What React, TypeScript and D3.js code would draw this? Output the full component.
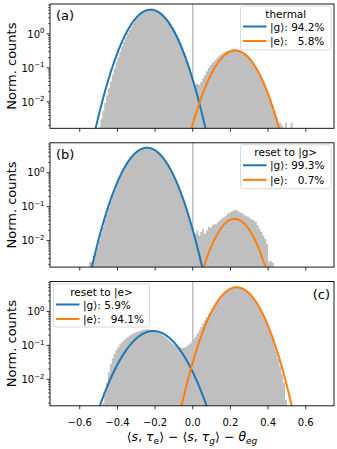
import React, { useEffect } from 'react';
import * as d3 from 'd3';

// histogram bins: first bin starts at binStart, each binWidth wide
const binStart = -0.55;
const binWidth = 0.01;

// log10 of normalised counts per bin, null = empty bin
const histThermal = [
  null, null, null, null, null, -2.75, -2.5, -2.26, -2.03, -1.81,
  -1.6, -1.4, -1.2, -1.02, -0.84, -0.68, -0.52, -0.37, -0.24, -0.11,
  0.01, 0.12, 0.22, 0.31, 0.4, 0.47, 0.54, 0.59, 0.64, 0.67,
  0.7, 0.72, 0.73, 0.73, 0.72, 0.7, 0.68, 0.65, 0.61, 0.56,
  0.5, 0.43, 0.36, 0.28, 0.19, 0.09, -0.02, -0.13, -0.26, -0.39,
  -0.53, -0.67, -0.83, -0.99, -1.15,
  -1.38, -1.48, -1.45, -1.5, -1.42, -1.3, -1.22, -1.1, -1.0, -0.92,
  -0.86, -0.8, -0.74, -0.68, -0.63, -0.59, -0.55, -0.52, -0.5, -0.48,
  -0.46, -0.45, -0.44, -0.46, -0.47, -0.5, -0.53, -0.56, -0.6, -0.66,
  -0.72, -0.79, -0.87, -0.95, -1.05, -1.15, -1.26, -1.38, -1.5, -1.64,
  -1.78, -1.94, -2.1, -2.28, -2.45, -2.62, -2.62, -2.7, null, -2.62,
  null, null, -2.62, null, null,
];
const histResetG = [
  -2.63, -2.62, -2.45, -2.35, -2.2, -2.0, -1.8, -1.6, -1.4, -1.2,
  -1.02, -0.84, -0.67, -0.51, -0.37, -0.23, -0.1, 0.03, 0.13, 0.23,
  0.31, 0.39, 0.46, 0.53, 0.58, 0.63, 0.67, 0.7, 0.72, 0.73,
  0.74, 0.74, 0.73, 0.71, 0.68, 0.65, 0.6, 0.55, 0.49, 0.42,
  0.35, 0.26, 0.17, 0.07, -0.04, -0.16, -0.28, -0.42, -0.56, -0.71,
  -0.87, -1.03, -1.21, -1.39, -1.58,
  -1.75, -1.8, -1.7, -1.85, -1.75, -1.65, -1.8, -1.7, -1.6, -1.62,
  -1.55, -1.5, -1.52, -1.45, -1.4, -1.35, -1.32, -1.28, -1.22, -1.18,
  -1.15, -1.12, -1.1, -1.1, -1.15, -1.18, -1.2, -1.25, -1.28, -1.3,
  -1.35, -1.38, -1.4, -1.45, -1.55, -1.65, -1.75, -1.85, -1.95, -2.1,
  -2.62, -2.6, -2.65, null, null, null, null, null, null, null,
  null, null, null, null, null,
];
const histResetE = [
  null, null, null, null, null, null, null, -2.7, -2.45, -2.1,
  -1.8, -1.55, -1.38, -1.25, -1.13, -1.05, -0.97, -0.9, -0.85, -0.8,
  -0.76, -0.72, -0.68, -0.65, -0.62, -0.6, -0.58, -0.56, -0.54, -0.53,
  -0.52, -0.53, -0.54, -0.56, -0.58, -0.6, -0.62, -0.65, -0.68, -0.72,
  -0.76, -0.8, -0.85, -0.9, -0.95, -1.0, -1.03, -1.06, -1.08, -1.08,
  -1.06, -1.04, -1.0, -0.95, -0.9,
  -0.82, -0.75, -0.66, -0.56, -0.46, -0.36, -0.26, -0.17, -0.08, 0.0,
  0.1, 0.18, 0.26, 0.33, 0.41, 0.48, 0.54, 0.59, 0.63, 0.66,
  0.68, 0.7, 0.71, 0.715, 0.71, 0.7, 0.67, 0.64, 0.6, 0.56,
  0.5, 0.44, 0.37, 0.29, 0.2, 0.11, 0.0, -0.11, -0.23, -0.36,
  -0.49, -0.64, -0.79, -0.97, -1.18, -1.4, -1.62, -1.85, -2.1, -2.6,
  null, null, null, null, null,
];
// narrow bin sitting exactly at 0 (goes off the top)
const zeroBinWidth = 0.008;
const zeroBinLog = [1.5, 1.5, 1.5];

// fitted gaussians
const gMeans = [-0.224, -0.243, -0.21];
const gSigmas = [0.0727, 0.0728, 0.089];
const gWeights = [0.942, 0.993, 0.059];
const eMeans = [0.226, 0.222, 0.233];
const eSigmas = [0.0715, 0.064, 0.073];
const eWeights = [0.058, 0.007, 0.941];

const panelLabels = ['(a)', '(b)', '(c)'];
const legendTitles = ['thermal', 'reset to |g>', 'reset to |e>'];
const gPercents = ['94.2%', '99.3%', '5.9%'];
const ePercents = ['5.8%', '0.7%', '94.1%'];

const xTicks = [-0.6, -0.4, -0.2, 0.0, 0.2, 0.4, 0.6];
const yMajor = [-2, -1, 0];

const W = 337, H = 449;
const left = 50, right = 334;
const panelTops = [4, 142.8, 281.5];
const panelH = 124.3;
const blue = '#1f77b4', orange = '#ff7f0e', grey = '#bfbfbf';
const font = 'DejaVu Sans, sans-serif';

const x = d3.scaleLinear().domain([-0.758, 0.75]).range([left, right]);

const gauss = (v, m, s, w) => (w / (s * Math.sqrt(2 * Math.PI))) * Math.exp(-((v - m) ** 2) / (2 * s * s));
const xs = d3.range(-0.76, 0.7601, 0.002);

const fmtTick = (v) => (v < 0 ? '\u2212' : '') + Math.abs(v).toFixed(1);

// outline of the histogram as one step path so neighbouring bars don't leave seams
function histPath(hist, y, bottom) {
  let d = '';
  let open = false;
  hist.forEach((l, j) => {
    const x0 = x(binStart + j * binWidth);
    const x1 = x(binStart + (j + 1) * binWidth);
    if (l === null) {
      if (open) { d += `L${x0},${bottom}Z`; open = false; }
      return;
    }
    const yy = y(10 ** l);
    if (!open) { d += `M${x0},${bottom}`; open = true; }
    d += `L${x0},${yy}L${x1},${yy}`;
    if (j === hist.length - 1) { d += `L${x1},${bottom}Z`; open = false; }
  });
  return d;
}

function Panel({ i }) {
  const top = panelTops[i];
  const bottom = top + panelH;
  const y = d3.scaleLog().domain([10 ** -2.78, 10 ** 0.88]).range([bottom, top]);
  const hist = [histThermal, histResetG, histResetE][i];
  const clipId = `clip${i}`;
  const line = d3.line().x((d) => x(d[0])).y((d) => Math.min(y(Math.max(d[1], 1e-12)), bottom + 50));
  const gPath = line(xs.map((v) => [v, gauss(v, gMeans[i], gSigmas[i], gWeights[i])]));
  const ePath = line(xs.map((v) => [v, gauss(v, eMeans[i], eSigmas[i], eWeights[i])]));

  const minor = [];
  for (let e = -3; e <= 0; e++) {
    for (let k = 2; k <= 9; k++) {
      const v = k * 10 ** e;
      if (v > 10 ** -2.78 && v < 10 ** 0.88) minor.push(v);
    }
  }

  const legendRight = i < 2;
  const lg = legendRight
    ? { x: 240.5, y: top + 2, w: 90.5, h: 44 }
    : { x: 53.5, y: top + 2.5, w: 96, h: 43 };

  return (
    <g>
      <defs>
        <clipPath id={clipId}>
          <rect x={left} y={top} width={right - left} height={panelH} />
        </clipPath>
      </defs>
      <g clipPath={`url(#${clipId})`}>
        <path d={histPath(hist, y, bottom)} fill={grey} />
        <rect x={x(-zeroBinWidth / 2)} y={y(10 ** zeroBinLog[i])} width={x(zeroBinWidth / 2) - x(-zeroBinWidth / 2)}
          height={bottom - y(10 ** zeroBinLog[i])} fill={grey} />
        <path d={gPath} fill="none" stroke={blue} strokeWidth={2} />
        <path d={ePath} fill="none" stroke={orange} strokeWidth={2} />
      </g>
      <rect x={left} y={top} width={right - left} height={panelH} fill="none" stroke="#000" strokeWidth={0.9} />
      {xTicks.map((t) => (
        <g key={t}>
          <line x1={x(t)} x2={x(t)} y1={bottom} y2={bottom + 3.5} stroke="#000" strokeWidth={0.8} />
          {i === 2 && (
            <text x={x(t)} y={bottom + 20.5} textAnchor="middle" fontSize={10} fontFamily={font}>{fmtTick(t)}</text>
          )}
        </g>
      ))}
      {minor.map((v) => (
        <line key={v} x1={left - 2} x2={left} y1={y(v)} y2={y(v)} stroke="#000" strokeWidth={0.6} />
      ))}
      {yMajor.map((e) => (
        <g key={e}>
          <line x1={left - 3.5} x2={left} y1={y(10 ** e)} y2={y(10 ** e)} stroke="#000" strokeWidth={0.8} />
          <text x={44.5} y={y(10 ** e) + 3.8} textAnchor="end" fontSize={10} fontFamily={font}>
            10<tspan dy={-4.5} fontSize={7}>{e < 0 ? '\u2212' + Math.abs(e) : String(e)}</tspan>
          </text>
        </g>
      ))}
      <text transform={`translate(16,${top + panelH / 2}) rotate(-90)`} textAnchor="middle" fontSize={13} fontFamily={font}>
        Norm. counts
      </text>
      {legendRight ? (
        <text x={56} y={top + 16} fontSize={13} fontFamily={font}>{panelLabels[i]}</text>
      ) : (
        <text x={330} y={top + 17} textAnchor="end" fontSize={13} fontFamily={font}>{panelLabels[i]}</text>
      )}
      <g fontFamily={font} fontSize={10.5}>
        <rect x={lg.x} y={lg.y} width={lg.w} height={lg.h} rx={2} fill="#fff" fillOpacity={0.85} stroke="#d0d0d0" strokeWidth={0.8} />
        <text x={lg.x + lg.w / 2} y={lg.y + 11.5} textAnchor="middle">{legendTitles[i]}</text>
        <line x1={lg.x + 2.5} x2={lg.x + 26} y1={lg.y + 20.5} y2={lg.y + 20.5} stroke={blue} strokeWidth={2} />
        <line x1={lg.x + 2.5} x2={lg.x + 26} y1={lg.y + 35} y2={lg.y + 35} stroke={orange} strokeWidth={2} />
        <text x={lg.x + 29.5} y={lg.y + 24.5} style={{ whiteSpace: 'pre' }}>{'|g\u27e9: ' + gPercents[i]}</text>
        <text x={lg.x + 29.5} y={lg.y + 39} style={{ whiteSpace: 'pre' }}>{'|e\u27e9:   ' + ePercents[i]}</text>
      </g>
    </g>
  );
}

export default function App() {
  useEffect(() => {
    document.body.style.margin = '0';
  }, []);
  return (
    <svg width={W} height={H} viewBox={`0 0 ${W} ${H}`} style={{ display: 'block', background: '#fff' }}>
      {[0, 1, 2].map((i) => <Panel key={i} i={i} />)}
      <text x={(left + right) / 2} y={441} textAnchor="middle" fontSize={12.5} fontFamily={font}>
        {'\u27e8'}<tspan fontStyle="italic">s</tspan>{', '}<tspan fontStyle="italic">{'\u03c4'}</tspan>
        <tspan fontSize={9} dy={2.5}>e</tspan>
        <tspan dy={-2.5}>{'\u27e9 \u2212 \u27e8'}</tspan><tspan fontStyle="italic">s</tspan>{', '}
        <tspan fontStyle="italic">{'\u03c4'}</tspan>
        <tspan fontSize={9} dy={2.5} fontStyle="italic">g</tspan>
        <tspan dy={-2.5}>{'\u27e9 \u2212 '}</tspan><tspan fontStyle="italic">{'\u03b8'}</tspan>
        <tspan fontSize={9} dy={2.5} fontStyle="italic">eg</tspan>
      </text>
    </svg>
  );
}
